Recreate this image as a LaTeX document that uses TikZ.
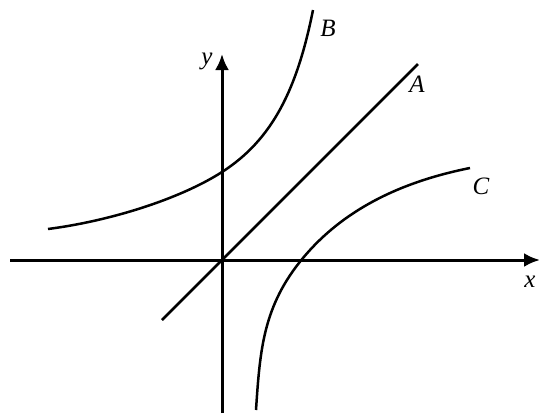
\documentclass[tikz,border=0pt]{standalone}
\usepackage{fontspec}
\setmainfont{Liberation Serif}
\usetikzlibrary{arrows.meta}
\begin{document}
\begin{tikzpicture}[x=1pt,y=-1pt,
  axis/.style={line width=3pt,-{Latex[length=16pt,width=14pt]}},
  curve/.style={line width=2.5pt},
  lbl/.style={font=\fontsize{25}{25}\selectfont\itshape,inner sep=0pt}]
\useasboundingbox (0,0) rectangle (539,413);
\coordinate (xs) at (10,260);
\coordinate (xe) at (540,260);
\coordinate (ys) at (222,413);
\coordinate (ye) at (222,54);
\draw[axis] (xs) -- (xe);
\draw[axis] (ys) -- (ye);
\coordinate (a1) at (162,320);
\coordinate (a2) at (418,64);
\draw[curve] (a1) -- (a2);
\coordinate (b0) at (48,229);
\coordinate (b1) at (222,172);
\coordinate (b2) at (313,10);
\draw[curve] (b0) .. controls (110,221) and (180,199) .. (b1)
                  .. controls (272,140) and (297,90) .. (b2);
\coordinate (c0) at (256,410);
\coordinate (c1) at (303,258);
\coordinate (c2) at (470,168);
\draw[curve] (c0) .. controls (260,350) and (263,306) .. (c1)
                  .. controls (343,210) and (400,182) .. (c2);
\node[lbl] (B) at (328,28) {B};
\node[lbl] (A) at (417,84) {A};
\node[lbl] (C) at (481,186) {C};
\node[lbl] (y) at (207,61) {y};
\node[lbl] (x) at (530,282) {x};
\end{tikzpicture}
\end{document}
